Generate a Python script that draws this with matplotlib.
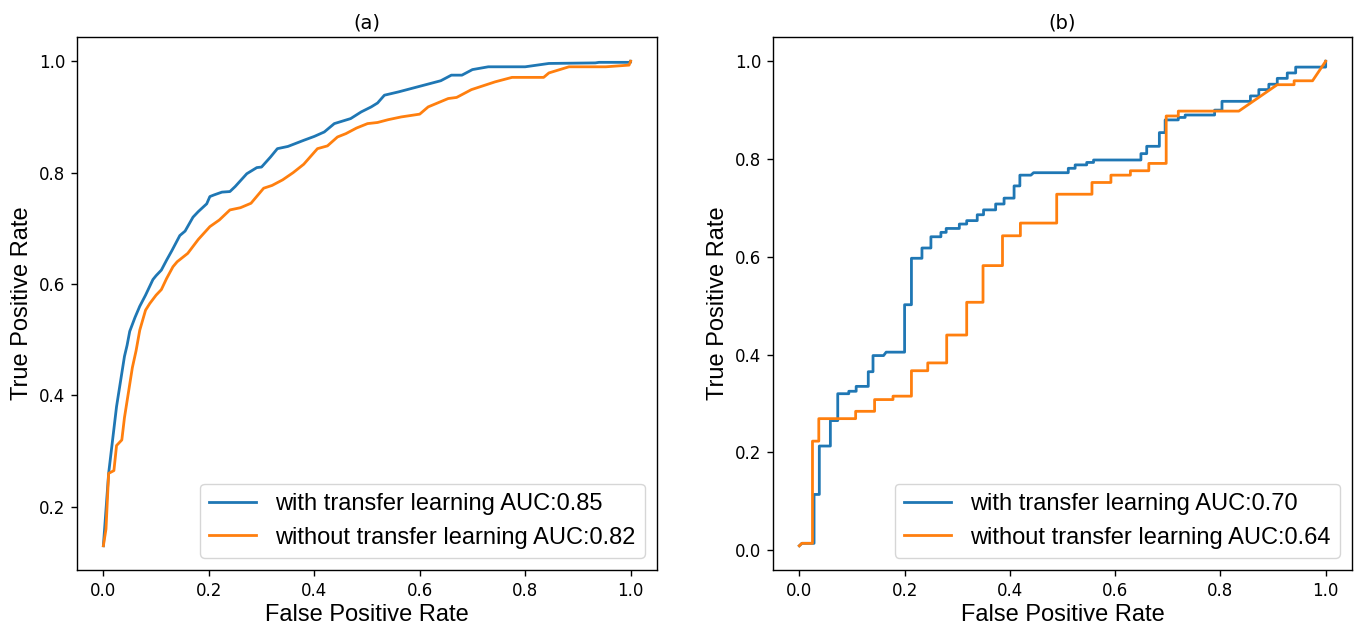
import matplotlib
matplotlib.use("Agg")
import matplotlib.pyplot as plt

# ---- Panel (a) data ----
fpr_a_tl = [0.0, 0.01, 0.015, 0.02, 0.025, 0.03, 0.035, 0.04, 0.045, 0.05, 0.06, 0.069, 0.08, 0.094,
            0.10, 0.11, 0.12, 0.13, 0.145, 0.155, 0.17, 0.18, 0.196, 0.202, 0.21, 0.225, 0.24, 0.25,
            0.272, 0.291, 0.30, 0.317, 0.33, 0.35, 0.38, 0.40, 0.419, 0.438, 0.469, 0.489, 0.508,
            0.52, 0.533, 0.56, 0.58, 0.60, 0.62, 0.64, 0.66, 0.68, 0.70, 0.73, 0.80, 0.845, 0.933,
            0.94, 1.0, 1.0]
tpr_a_tl = [0.13, 0.26, 0.30, 0.34, 0.38, 0.41, 0.44, 0.47, 0.49, 0.515, 0.54, 0.56, 0.58, 0.608,
            0.615, 0.625, 0.643, 0.66, 0.687, 0.695, 0.72, 0.73, 0.744, 0.757, 0.76, 0.765, 0.766, 0.775,
            0.798, 0.809, 0.81, 0.828, 0.843, 0.847, 0.858, 0.865, 0.873, 0.888, 0.897, 0.909, 0.918,
            0.925, 0.939, 0.945, 0.95, 0.955, 0.96, 0.965, 0.975, 0.975, 0.985, 0.99, 0.99, 0.996, 0.997,
            0.998, 0.998, 1.0]
fpr_a_no = [0.0, 0.005, 0.01, 0.02, 0.025, 0.035, 0.04, 0.05, 0.055, 0.062, 0.069, 0.08, 0.088,
            0.10, 0.11, 0.12, 0.132, 0.14, 0.16, 0.18, 0.202, 0.22, 0.24, 0.26, 0.28, 0.304, 0.32,
            0.34, 0.36, 0.38, 0.406, 0.425, 0.444, 0.46, 0.48, 0.501, 0.52, 0.54, 0.565, 0.60,
            0.616, 0.654, 0.67, 0.698, 0.743, 0.775, 0.835, 0.845, 0.883, 0.953, 0.997, 1.0]
tpr_a_no = [0.13, 0.16, 0.26, 0.265, 0.31, 0.32, 0.36, 0.42, 0.45, 0.48, 0.517, 0.553, 0.565,
            0.58, 0.59, 0.61, 0.631, 0.64, 0.655, 0.68, 0.703, 0.715, 0.733, 0.737, 0.745, 0.772, 0.777,
            0.787, 0.80, 0.815, 0.843, 0.848, 0.864, 0.87, 0.88, 0.888, 0.89, 0.895, 0.90, 0.905,
            0.918, 0.933, 0.935, 0.949, 0.963, 0.971, 0.971, 0.979, 0.99, 0.99, 0.993, 1.0]
auc_a = [0.85, 0.82]

# ---- Panel (b) data ----
fpr_b_tl = [0.0, 0.005, 0.028, 0.028, 0.038, 0.038, 0.059, 0.059, 0.073, 0.073, 0.094, 0.094,
            0.108, 0.108, 0.131, 0.131, 0.14, 0.14, 0.16, 0.165, 0.2, 0.2, 0.213, 0.213, 0.233, 0.233,
            0.25, 0.25, 0.269, 0.269, 0.279, 0.279, 0.304, 0.304, 0.318, 0.318, 0.338, 0.338, 0.35,
            0.35, 0.373, 0.373, 0.389, 0.389, 0.408, 0.408, 0.419, 0.419, 0.44, 0.445, 0.511, 0.511,
            0.524, 0.524, 0.546, 0.546, 0.559, 0.559, 0.649, 0.649, 0.66, 0.66, 0.684, 0.684, 0.695,
            0.695, 0.72, 0.72, 0.733, 0.733, 0.789, 0.789, 0.803, 0.803, 0.857, 0.857, 0.873, 0.873,
            0.892, 0.892, 0.908, 0.908, 0.927, 0.927, 0.943, 0.943, 1.0, 1.0]
tpr_b_tl = [0.009, 0.014, 0.014, 0.114, 0.114, 0.213, 0.213, 0.265, 0.265, 0.32, 0.32, 0.325,
            0.325, 0.335, 0.335, 0.365, 0.365, 0.398, 0.398, 0.405, 0.405, 0.502, 0.502, 0.597, 0.597,
            0.618, 0.618, 0.641, 0.641, 0.65, 0.65, 0.658, 0.658, 0.667, 0.667, 0.674, 0.674, 0.686,
            0.686, 0.696, 0.696, 0.708, 0.708, 0.72, 0.72, 0.745, 0.745, 0.767, 0.767, 0.772, 0.772,
            0.781, 0.781, 0.788, 0.788, 0.793, 0.793, 0.798, 0.798, 0.811, 0.811, 0.826, 0.826, 0.854,
            0.854, 0.88, 0.88, 0.885, 0.885, 0.89, 0.89, 0.9, 0.9, 0.918, 0.918, 0.929, 0.929, 0.942,
            0.942, 0.953, 0.953, 0.965, 0.965, 0.976, 0.976, 0.988, 0.988, 1.0]
fpr_b_no = [0.0, 0.005, 0.025, 0.025, 0.037, 0.037, 0.107, 0.107, 0.143, 0.143, 0.178, 0.178,
            0.213, 0.213, 0.244, 0.244, 0.28, 0.28, 0.318, 0.318, 0.349, 0.349, 0.386, 0.386, 0.42,
            0.42, 0.489, 0.489, 0.556, 0.556, 0.592, 0.592, 0.629, 0.629, 0.664, 0.664, 0.697, 0.697,
            0.72, 0.72, 0.835, 0.908, 0.94, 0.94, 0.975, 1.0]
tpr_b_no = [0.009, 0.014, 0.014, 0.223, 0.223, 0.269, 0.269, 0.284, 0.284, 0.308, 0.308, 0.315,
            0.315, 0.367, 0.367, 0.383, 0.383, 0.44, 0.44, 0.507, 0.507, 0.582, 0.582, 0.643, 0.643,
            0.669, 0.669, 0.728, 0.728, 0.752, 0.752, 0.767, 0.767, 0.776, 0.776, 0.791, 0.791, 0.888,
            0.888, 0.898, 0.898, 0.952, 0.952, 0.96, 0.96, 1.0]
auc_b = [0.70, 0.64]

titles = ["(a)", "(b)"]
labels = ["with transfer learning AUC:{:.2f}", "without transfer learning AUC:{:.2f}"]
colors = ["#1f77b4", "#ff7f0e"]

LAB = "Liberation Sans"
TICK = "DejaVu Sans"

fig = plt.figure(figsize=(13.6, 6.29), dpi=100)
W, H = 1360, 629
ax_a = fig.add_axes([77 / W, (H - 570) / H, 580 / W, 533 / H])
ax_b = fig.add_axes([773 / W, (H - 570) / H, 579 / W, 533 / H])

panels = [
    (ax_a, [(fpr_a_tl, tpr_a_tl), (fpr_a_no, tpr_a_no)], auc_a),
    (ax_b, [(fpr_b_tl, tpr_b_tl), (fpr_b_no, tpr_b_no)], auc_b),
]

for (ax, series, aucs), title in zip(panels, titles):
    for (x, y), lab, auc, c in zip(series, labels, aucs, colors):
        ax.plot(x, y, color=c, lw=2.0, label=lab.format(auc))
    ax.set_xlabel("False Positive Rate", fontsize=17, family=LAB, labelpad=3)
    ax.set_ylabel("True Positive Rate", fontsize=17, family=LAB)
    ax.set_title(title, fontsize=14, family=TICK, pad=6)
    ax.set_xticks([0.0, 0.2, 0.4, 0.6, 0.8, 1.0])
    ax.tick_params(labelsize=12, length=4.5, width=1.0, pad=4)
    for lbl in ax.get_xticklabels() + ax.get_yticklabels():
        lbl.set_family(TICK)
    for sp in ax.spines.values():
        sp.set_linewidth(1.0)
    ax.legend(loc="lower right", prop={"family": LAB, "size": 17})

ax_a.set_yticks([0.2, 0.4, 0.6, 0.8, 1.0])
ax_b.set_yticks([0.0, 0.2, 0.4, 0.6, 0.8, 1.0])

fig.savefig("out.png", dpi=100)
